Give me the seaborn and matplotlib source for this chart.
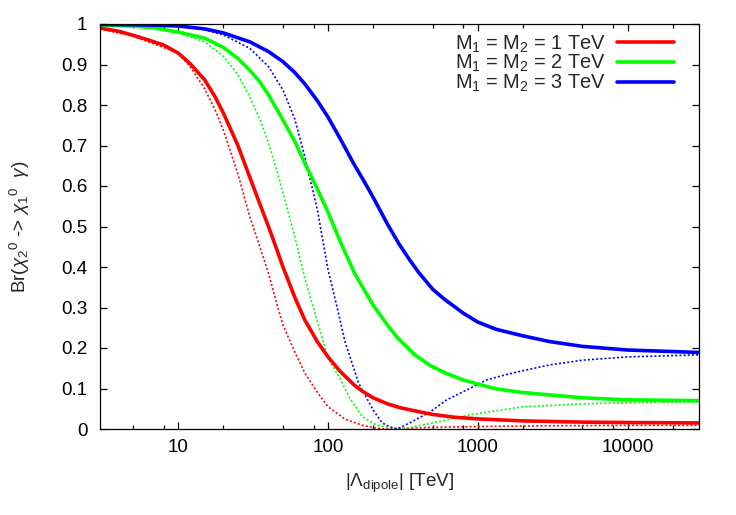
import matplotlib
matplotlib.use("Agg")
import matplotlib.pyplot as plt
import seaborn as sns
from matplotlib.ticker import FixedLocator, NullFormatter, FuncFormatter
from matplotlib.lines import Line2D

# ---- data ----
lam_1tev = [3, 4, 5, 6, 7, 8, 10, 12, 15, 17.5, 20, 25, 30, 35, 40, 45, 50, 60, 70,
            85, 100, 120, 150, 170, 200, 250, 300, 400, 500, 700, 1000, 2000,
            5000, 10000, 30000]
br_1tev = [0.99, 0.982, 0.972, 0.963, 0.955, 0.948, 0.928, 0.902, 0.862, 0.822, 0.78,
           0.70, 0.622, 0.556, 0.50, 0.448, 0.40, 0.325, 0.269, 0.215, 0.178, 0.143,
           0.108, 0.093, 0.077, 0.062, 0.053, 0.043, 0.036, 0.029, 0.025, 0.02,
           0.017, 0.016, 0.015]

lam_2tev = [3, 5, 7, 10, 15, 20, 25, 30, 35, 40, 50, 60, 70, 85, 100, 120, 150, 200,
            250, 290, 380, 480, 600, 800, 1000, 1330, 2000, 5000, 10000, 30000]
br_2tev = [0.997, 0.995, 0.99, 0.98, 0.965, 0.942, 0.915, 0.886, 0.857, 0.825, 0.763,
           0.71, 0.656, 0.592, 0.535, 0.465, 0.385, 0.306, 0.256, 0.226, 0.183, 0.157,
           0.139, 0.121, 0.111, 0.099, 0.09, 0.077, 0.072, 0.07]

lam_3tev = [3, 5, 7, 10, 15, 20, 30, 40, 50, 60, 70, 85, 100, 120, 150, 175, 200, 250,
            300, 350, 400, 500, 600, 700, 800, 1000, 1330, 2000, 3000, 5000, 10000, 30000]
br_3tev = [0.999, 0.998, 0.997, 0.995, 0.988, 0.978, 0.956, 0.932, 0.907, 0.88, 0.852,
           0.81, 0.77, 0.718, 0.652, 0.61, 0.572, 0.505, 0.455, 0.418, 0.388, 0.345,
           0.32, 0.302, 0.286, 0.264, 0.246, 0.23, 0.216, 0.204, 0.195, 0.189]

lam_dot_1tev = [3, 5, 7, 10, 12, 15, 17.5, 20, 25, 30, 35, 40, 45, 50, 60, 70, 85, 100,
                130, 170, 210, 250, 350, 500, 1000, 3000, 10000, 30000]
br_dot_1tev = [0.988, 0.97, 0.95, 0.928, 0.895, 0.84, 0.79, 0.738, 0.63, 0.525, 0.45,
               0.385, 0.315, 0.257, 0.19, 0.138, 0.09, 0.055, 0.024, 0.009, 0.002, 0.0,
               0.002, 0.004, 0.006, 0.008, 0.009, 0.009]

lam_dot_2tev = [3, 5, 7, 10, 15, 20, 25, 30, 35, 40, 45, 50, 60, 70, 85, 100, 120, 140,
                170, 210, 260, 310, 430, 620, 880, 1330, 2000, 5000, 10000, 30000]
br_dot_2tev = [0.997, 0.993, 0.988, 0.978, 0.956, 0.92, 0.875, 0.82, 0.765, 0.706,
               0.645, 0.582, 0.475, 0.372, 0.265, 0.175, 0.125, 0.075, 0.03, 0.01,
               0.003, 0.0, 0.01, 0.022, 0.035, 0.045, 0.055, 0.062, 0.065, 0.067]

lam_dot_3tev = [3, 5, 7, 10, 15, 20, 30, 40, 50, 60, 70, 85, 100, 115, 130, 160, 200,
                230, 260, 290, 350, 480, 620, 840, 1140, 1500, 2000, 3000, 5000,
                10000, 30000]
br_dot_3tev = [0.999, 0.998, 0.997, 0.995, 0.986, 0.973, 0.94, 0.895, 0.837, 0.765,
               0.672, 0.54, 0.393, 0.3, 0.215, 0.113, 0.047, 0.015, 0.005, 0.0, 0.015,
               0.042, 0.072, 0.096, 0.121, 0.133, 0.144, 0.158, 0.17, 0.178, 0.183]

labels = ["M$_1$ = M$_2$ = 1 TeV", "M$_1$ = M$_2$ = 2 TeV", "M$_1$ = M$_2$ = 3 TeV"]
colors = ["#ff0000", "#00ff00", "#0000ff"]
x_major = [10, 100, 1000, 10000]
y_major = [0, 0.1, 0.2, 0.3, 0.4, 0.5, 0.6, 0.7, 0.8, 0.9, 1.0]

# ---- style ----
sns.set_style("ticks")
plt.rcParams["font.family"] = ["Liberation Sans", "DejaVu Sans"]
plt.rcParams["mathtext.fontset"] = "custom"
plt.rcParams["mathtext.rm"] = "Liberation Sans"
plt.rcParams["mathtext.it"] = "Liberation Sans:italic"
plt.rcParams["mathtext.bf"] = "Liberation Sans:bold"
FS = 13.6

fig = plt.figure(figsize=(7.36, 5.15), dpi=100)
ax = fig.add_axes([100 / 736, 1 - 429 / 515, 599 / 736, 405 / 515])

solid = [(lam_1tev, br_1tev), (lam_2tev, br_2tev), (lam_3tev, br_3tev)]
dots = [(lam_dot_1tev, br_dot_1tev), (lam_dot_2tev, br_dot_2tev), (lam_dot_3tev, br_dot_3tev)]

for (lx, ly), c in zip(dots, colors):
    sns.lineplot(x=lx, y=ly, ax=ax, color=c, lw=1.2,
                 linestyle=(0, (1.2, 1.3)), legend=False)
for (lx, ly), c in zip(solid, colors):
    sns.lineplot(x=lx, y=ly, ax=ax, color=c, lw=2.6, legend=False)

ax.set_xscale("log")
ax.set_xlim(3, 30000)
ax.set_ylim(0, 1)

ax.xaxis.set_major_locator(FixedLocator(x_major))
ax.xaxis.set_major_formatter(FuncFormatter(lambda v, p: "%d" % round(v)))
minors = [m * d for d in [1, 10, 100, 1000, 10000] for m in (2, 5, 8) if 3 <= m * d <= 30000]
ax.xaxis.set_minor_locator(FixedLocator(minors))
ax.xaxis.set_minor_formatter(NullFormatter())
ax.yaxis.set_major_locator(FixedLocator(y_major))
ax.yaxis.set_major_formatter(FuncFormatter(lambda v, p: "%g" % round(v, 1)))

ax.tick_params(which="both", direction="in", top=True, right=True,
               colors="black", labelcolor="black", labelsize=FS)
ax.tick_params(which="major", length=5, width=0.9)
ax.tick_params(which="minor", length=2.8, width=0.9)
ax.tick_params(axis="y", pad=9)
ax.tick_params(axis="x", pad=7.5)
for s in ax.spines.values():
    s.set_visible(True)
    s.set_color("black")
    s.set_linewidth(0.9)

ax.set_xlabel(r"|$\Lambda_{\rm dipole}$| [TeV]", fontsize=FS)
ax.set_ylabel(r"Br($\chi_2{}^0$ -> $\chi_1{}^0$  $\gamma$)", fontsize=FS)
ax.xaxis.set_label_coords(0.5, -0.105)
ax.yaxis.set_label_coords(-0.114, 0.5)

handles = [Line2D([], [], color=c, lw=2.6) for c in colors]
leg = ax.legend(handles, labels, loc="upper right", bbox_to_anchor=(0.958, 0.977),
                frameon=False, markerfirst=False, fontsize=14.4, borderpad=0,
                borderaxespad=0, handlelength=2.85, handletextpad=0.52,
                labelspacing=-0.08)

fig.savefig("out.png", dpi=100)
